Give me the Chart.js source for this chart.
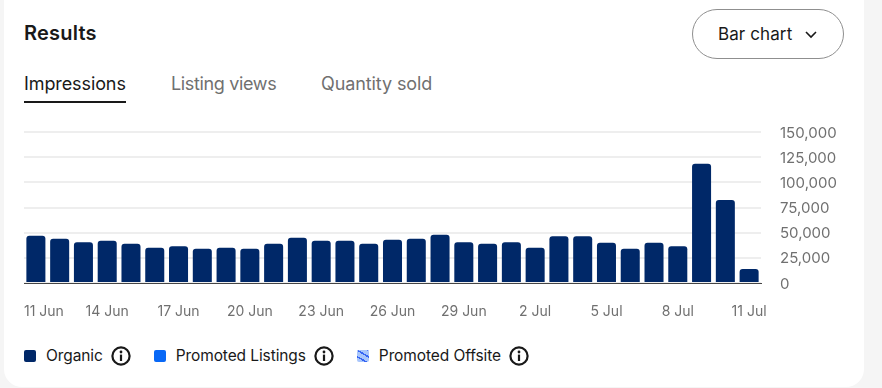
<!DOCTYPE html>
<html>
<head>
<meta charset="utf-8">
<title>Results</title>
<script src="https://cdn.jsdelivr.net/npm/chart.js@4"></script>
<style>
  html, body { margin: 0; height: 100%; background: #f5f5f5; overflow: hidden; font-family: Inter, sans-serif; color: #191919; }
  .card { position: absolute; left: 4px; top: -20px; width: 860px; height: 407px; background: #fff; border-radius: 18px; }
  .abs { position: absolute; white-space: nowrap; }
  #title { left: 24px; top: 20px; font-size: 20px; line-height: 26px; font-weight: 600; letter-spacing: 0.2px; }
  .tab { top: 72px; font-size: 18px; line-height: 24px; color: #707070; letter-spacing: -0.1px; }
  #tab_line { left: 24px; top: 101px; width: 102px; height: 2px; background: #191919; }
  #button { left: 692px; top: 9px; width: 150px; height: 48px; border: 1px solid #8f8f8f; border-radius: 25px; }
  #button span { position: absolute; left: 25px; top: 12px; font-size: 17px; line-height: 24px; letter-spacing: 0.1px; }
  #button svg { position: absolute; left: 111px; top: 20px; }
  #chart { position: absolute; left: 24px; top: 120px; }
  #legend { position: absolute; left: 24px; top: 345px; display: flex; align-items: center; font-size: 15.5px; line-height: 22px; letter-spacing: -0.1px; }
  #legend .swatch { width: 12px; height: 12px; border-radius: 2px; margin-right: 10px; }
  #legend svg { margin-left: 8px; margin-right: 23px; }
</style>
</head>
<body>
<div class="card"></div>
<div class="abs" id="title">Results</div>
<div class="abs tab" style="left:24px;color:#191919">Impressions</div>
<div class="abs tab" style="left:171px;letter-spacing:-0.35px">Listing views</div>
<div class="abs tab" style="left:321px">Quantity sold</div>
<div class="abs" id="tab_line"></div>
<div class="abs" id="button"><span>Bar chart</span>
  <svg width="14" height="10" viewBox="0 0 14 10"><path d="M2 2 L7 7 L12 2" fill="none" stroke="#191919" stroke-width="1.6"/></svg>
</div>
<canvas id="chart" width="820" height="200"></canvas>
<div id="legend"></div>

<script>
const days = ['11 Jun','12 Jun','13 Jun','14 Jun','15 Jun','16 Jun','17 Jun','18 Jun','19 Jun','20 Jun',
  '21 Jun','22 Jun','23 Jun','24 Jun','25 Jun','26 Jun','27 Jun','28 Jun','29 Jun','30 Jun',
  '1 Jul','2 Jul','3 Jul','4 Jul','5 Jul','6 Jul','7 Jul','8 Jul','9 Jul','10 Jul','11 Jul'];
const organic = [47000,44000,40500,42000,39000,35000,36500,34000,35000,34000,
  39000,45000,42000,42000,39000,43000,44000,48000,40500,39000,
  40500,35000,46500,46500,40000,34000,40000,36500,118500,82500,14000];
const y_ticks = [0,25000,50000,75000,100000,125000,150000];
const legend_names = ['Organic','Promoted Listings','Promoted Offsite'];
const legend_swatches = ['#002868','#0968f6','repeating-linear-gradient(30deg,#a9c6fb 0 4px,#3665f3 4px 5.5px)'];

const text_grey = '#707070';
const x_font = { family: 'Inter', size: 14 };
const y_font = { family: 'Inter', size: 15 };

// legend is plain html, the info icons are not something chart.js does
var legend_html = '';
for (var i = 0; i < legend_names.length; i++) {
  legend_html += '<div class="swatch" style="background:' + legend_swatches[i] + '"></div><span>' + legend_names[i] + '</span>' +
    '<svg width="20" height="20" viewBox="0 0 20 20"><circle cx="10" cy="10" r="8.6" fill="none" stroke="#191919" stroke-width="2.2"/>' +
    '<circle cx="10" cy="6" r="1.4" fill="#191919"/><rect x="8.9" y="8.6" width="2.2" height="6.4" fill="#191919"/></svg>';
}
document.getElementById('legend').innerHTML = legend_html;

// first date label sits flush with the axis start instead of centred on its bar
const first_label = {
  id: 'first_label',
  afterDraw(chart) {
    const ctx = chart.ctx;
    ctx.save();
    ctx.font = '14px Inter';
    ctx.fillStyle = text_grey;
    ctx.textAlign = 'left';
    ctx.textBaseline = 'middle';
    ctx.fillText(days[0], chart.chartArea.left, 192);
    ctx.restore();
  }
};

// fixed axis sizes, and no extra room for overhanging labels
function no_padding(scale) {
  scale.paddingLeft = 0;
  scale.paddingRight = 0;
  scale.paddingTop = 0;
  scale.paddingBottom = 0;
}

new Chart(document.getElementById('chart'), {
  type: 'bar',
  data: {
    labels: days,
    datasets: [{
      label: legend_names[0],
      data: organic,
      backgroundColor: '#002868',
      borderRadius: { topLeft: 3, topRight: 3 },
      borderSkipped: false,
      categoryPercentage: 0.8,
      barPercentage: 1
    }]
  },
  plugins: [first_label],
  options: {
    responsive: false,
    animation: false,
    layout: { padding: { top: 12 } },
    plugins: { legend: { display: false }, tooltip: { enabled: false } },
    scales: {
      x: {
        offset: true,
        grid: { display: false, drawTicks: false },
        border: { display: true, color: '#444444', width: 1 },
        afterFit: function (scale) { scale.height = 37; no_padding(scale); },
        ticks: {
          autoSkip: false,
          maxRotation: 0,
          padding: 20,
          color: text_grey,
          font: x_font,
          callback: function (value, index) {
            return (index % 3 == 0 && index > 0) ? days[index] : '';
          }
        }
      },
      y: {
        position: 'right',
        min: 0,
        max: 150000,
        afterFit: function (scale) { scale.width = 83; no_padding(scale); },
        afterBuildTicks: function (scale) { scale.ticks = y_ticks.map(function (v) { return { value: v }; }); },
        border: { display: false },
        grid: {
          color: '#eeeeee',
          lineWidth: 2,
          drawTicks: false
        },
        ticks: {
          padding: 19,
          labelOffset: 1,
          color: text_grey,
          font: y_font,
          callback: function (value) { return value.toLocaleString('en-US'); }
        }
      }
    }
  }
});
</script>
</body>
</html>
